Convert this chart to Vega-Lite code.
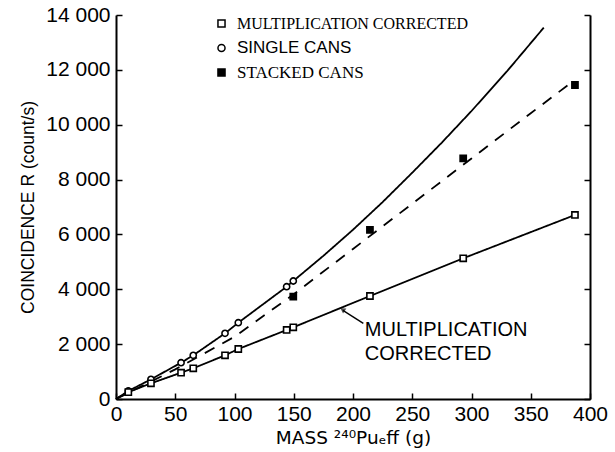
{
  "$schema": "https://vega.github.io/schema/vega-lite/v6.json",
  "width": 474,
  "height": 384,
  "autosize": "none",
  "padding": {"left": 116, "top": 15, "right": 25, "bottom": 53},
  "background": "white",
  "config": {"view": {"stroke": null}, "font": "Liberation Sans"},
  "datasets": {
    "curves": [
      {"curve": "single", "mass": 0, "rate": 0},
      {"curve": "single", "mass": 10.4, "rate": 292},
      {"curve": "single", "mass": 29.5, "rate": 718},
      {"curve": "single", "mass": 54.9, "rate": 1323},
      {"curve": "single", "mass": 65.2, "rate": 1593},
      {"curve": "single", "mass": 92, "rate": 2395},
      {"curve": "single", "mass": 103.2, "rate": 2782},
      {"curve": "single", "mass": 144, "rate": 4094},
      {"curve": "single", "mass": 149.6, "rate": 4302},
      {"curve": "single", "mass": 175, "rate": 5220},
      {"curve": "single", "mass": 200, "rate": 6170},
      {"curve": "single", "mass": 225, "rate": 7180},
      {"curve": "single", "mass": 250, "rate": 8250},
      {"curve": "single", "mass": 275, "rate": 9350},
      {"curve": "single", "mass": 300, "rate": 10500},
      {"curve": "single", "mass": 330, "rate": 11950},
      {"curve": "single", "mass": 361, "rate": 13540},
      {"curve": "corrected", "mass": 0, "rate": 0},
      {"curve": "corrected", "mass": 10.4, "rate": 250},
      {"curve": "corrected", "mass": 29.5, "rate": 572},
      {"curve": "corrected", "mass": 54.9, "rate": 959},
      {"curve": "corrected", "mass": 65.2, "rate": 1119},
      {"curve": "corrected", "mass": 92, "rate": 1593},
      {"curve": "corrected", "mass": 103.2, "rate": 1823},
      {"curve": "corrected", "mass": 144, "rate": 2516},
      {"curve": "corrected", "mass": 149.6, "rate": 2614},
      {"curve": "corrected", "mass": 214.3, "rate": 3755},
      {"curve": "corrected", "mass": 293, "rate": 5130},
      {"curve": "corrected", "mass": 387.3, "rate": 6709},
      {"curve": "stacked", "mass": 0, "rate": 0},
      {"curve": "stacked", "mass": 50, "rate": 1080},
      {"curve": "stacked", "mass": 100, "rate": 2270},
      {"curve": "stacked", "mass": 150, "rate": 3820},
      {"curve": "stacked", "mass": 200, "rate": 5470},
      {"curve": "stacked", "mass": 250, "rate": 7120},
      {"curve": "stacked", "mass": 300, "rate": 8770},
      {"curve": "stacked", "mass": 350, "rate": 10420},
      {"curve": "stacked", "mass": 385, "rate": 11560}
    ],
    "points": [
      {"series": "SINGLE CANS", "mass": 10.4, "rate": 292},
      {"series": "SINGLE CANS", "mass": 29.5, "rate": 718},
      {"series": "SINGLE CANS", "mass": 54.9, "rate": 1323},
      {"series": "SINGLE CANS", "mass": 65.2, "rate": 1593},
      {"series": "SINGLE CANS", "mass": 92, "rate": 2395},
      {"series": "SINGLE CANS", "mass": 103.2, "rate": 2782},
      {"series": "SINGLE CANS", "mass": 144, "rate": 4094},
      {"series": "SINGLE CANS", "mass": 149.6, "rate": 4302},
      {"series": "MULTIPLICATION CORRECTED", "mass": 10.4, "rate": 250},
      {"series": "MULTIPLICATION CORRECTED", "mass": 29.5, "rate": 572},
      {"series": "MULTIPLICATION CORRECTED", "mass": 54.9, "rate": 959},
      {"series": "MULTIPLICATION CORRECTED", "mass": 65.2, "rate": 1119},
      {"series": "MULTIPLICATION CORRECTED", "mass": 92, "rate": 1593},
      {"series": "MULTIPLICATION CORRECTED", "mass": 103.2, "rate": 1823},
      {"series": "MULTIPLICATION CORRECTED", "mass": 144, "rate": 2516},
      {"series": "MULTIPLICATION CORRECTED", "mass": 149.6, "rate": 2614},
      {"series": "MULTIPLICATION CORRECTED", "mass": 214.3, "rate": 3755},
      {"series": "MULTIPLICATION CORRECTED", "mass": 293, "rate": 5130},
      {"series": "MULTIPLICATION CORRECTED", "mass": 387.3, "rate": 6709},
      {"series": "STACKED CANS", "mass": 149.6, "rate": 3730},
      {"series": "STACKED CANS", "mass": 214.3, "rate": 6162},
      {"series": "STACKED CANS", "mass": 293, "rate": 8776},
      {"series": "STACKED CANS", "mass": 387.3, "rate": 11448}
    ],
    "labels": [
      {"mass": 210, "rate": 2300, "text": "MULTIPLICATION"},
      {"mass": 210, "rate": 1420, "text": "CORRECTED"}
    ],
    "arrow": [
      {"mass": 208.7, "rate": 2760, "mass2": 191.5, "rate2": 3230}
    ],
    "arrowhead": [
      {"mass": 191.2, "rate": 3260}
    ]
  },
  "layer": [
    {
      "data": {"name": "curves"},
      "mark": {"type": "line", "color": "black"},
      "encoding": {
        "x": {
          "field": "mass", "type": "quantitative",
          "scale": {"domain": [0, 400], "nice": false},
          "axis": {
            "values": [0, 50, 100, 150, 200, 250, 300, 350, 400],
            "grid": false, "tickSize": -6, "tickWidth": 1.5, "tickColor": "black",
            "domainWidth": 2, "domainColor": "black",
            "labelFontSize": 21, "labelColor": "black", "labelPadding": 10, "labelFlush": false,
            "title": "MASS ²⁴⁰Puₑff (g)", "titleFont": "DejaVu Sans", "titleFontSize": 18.5, "titleFontWeight": "normal",
            "titleColor": "black", "titlePadding": 4
          }
        },
        "y": {
          "field": "rate", "type": "quantitative",
          "scale": {"domain": [0, 14000], "nice": false},
          "axis": {
            "values": [0, 2000, 4000, 6000, 8000, 10000, 12000, 14000],
            "grid": false, "tickSize": -6, "tickWidth": 1.5, "tickColor": "black",
            "domainWidth": 2, "domainColor": "black",
            "labelFontSize": 21, "labelColor": "black", "labelPadding": 12, "labelFlush": false,
            "labelExpr": "replace(format(datum.value, ','), ',', ' ')",
            "title": "COINCIDENCE R (count/s)", "titleFontSize": 17.5, "titleFontWeight": "normal",
            "titleColor": "black", "titlePadding": 8
          }
        },
        "detail": {"field": "curve"},
        "strokeDash": {
          "field": "curve", "type": "nominal",
          "scale": {"domain": ["single", "corrected", "stacked"], "range": [[1, 0], [1, 0], [11, 9]]},
          "legend": null
        },
        "strokeWidth": {
          "field": "curve", "type": "nominal",
          "scale": {"domain": ["single", "corrected", "stacked"], "range": [1.8, 1.8, 1.3]},
          "legend": null
        }
      }
    },
    {
      "data": {"name": "arrow"},
      "mark": {"type": "rule", "color": "black", "strokeWidth": 1.4},
      "encoding": {
        "x": {"field": "mass", "type": "quantitative"},
        "y": {"field": "rate", "type": "quantitative", "axis": null},
        "x2": {"field": "mass2"},
        "y2": {"field": "rate2"}
      }
    },
    {
      "data": {"name": "arrowhead"},
      "mark": {"type": "point", "shape": "triangle-up", "filled": true, "color": "black", "size": 35, "angle": 304},
      "encoding": {
        "x": {"field": "mass", "type": "quantitative"},
        "y": {"field": "rate", "type": "quantitative", "axis": null}
      }
    },
    {
      "data": {"name": "labels"},
      "mark": {"type": "text", "align": "left", "baseline": "alphabetic", "fontSize": 20, "font": "Liberation Sans", "color": "black"},
      "encoding": {
        "x": {"field": "mass", "type": "quantitative"},
        "y": {"field": "rate", "type": "quantitative", "axis": null},
        "text": {"field": "text"}
      }
    },
    {
      "data": {"name": "points"},
      "mark": {"type": "point", "filled": true, "stroke": "black", "strokeWidth": 1.6, "size": 38, "opacity": 1},
      "encoding": {
        "x": {"field": "mass", "type": "quantitative"},
        "y": {"field": "rate", "type": "quantitative", "axis": null},
        "shape": {
          "field": "series", "type": "nominal",
          "scale": {"domain": ["MULTIPLICATION CORRECTED", "SINGLE CANS", "STACKED CANS"], "range": ["square", "circle", "square"]},
          "legend": {
            "orient": "none", "legendX": 97, "legendY": 0, "title": null,
            "padding": 0, "rowPadding": 6.5, "labelOffset": 7,
            "labelFontSize": {"expr": "datum.value === 'MULTIPLICATION CORRECTED' ? 16 : 17"},
            "labelFont": {"expr": "datum.value === 'SINGLE CANS' ? 'Liberation Sans' : 'Liberation Serif'"},
            "labelColor": "black", "labelLimit": 400,
            "symbolSize": 50,
            "encode": {
              "symbols": {
                "stroke": {"value": "black"},
                "strokeWidth": {"value": 1.2},
                "fill": {"signal": "datum.value === 'STACKED CANS' ? 'black' : 'white'"},
                "opacity": {"value": 1}
              }
            }
          }
        },
        "fill": {
          "field": "series", "type": "nominal",
          "scale": {"domain": ["MULTIPLICATION CORRECTED", "SINGLE CANS", "STACKED CANS"], "range": ["white", "white", "black"]},
          "legend": null
        }
      }
    },
    {
      "data": {"name": "points"},
      "mark": {"type": "point", "opacity": 0},
      "encoding": {
        "x": {"field": "mass", "type": "quantitative"},
        "y": {
          "field": "rate", "type": "quantitative",
          "axis": {
            "orient": "right", "values": [0, 2000, 4000, 6000, 8000, 10000, 12000, 14000],
            "labels": false, "title": null, "grid": false,
            "tickSize": -6, "tickWidth": 1.5, "tickColor": "black",
            "domainWidth": 2, "domainColor": "black"
          }
        }
      }
    }
  ],
  "resolve": {"axis": {"y": "independent"}}
}
